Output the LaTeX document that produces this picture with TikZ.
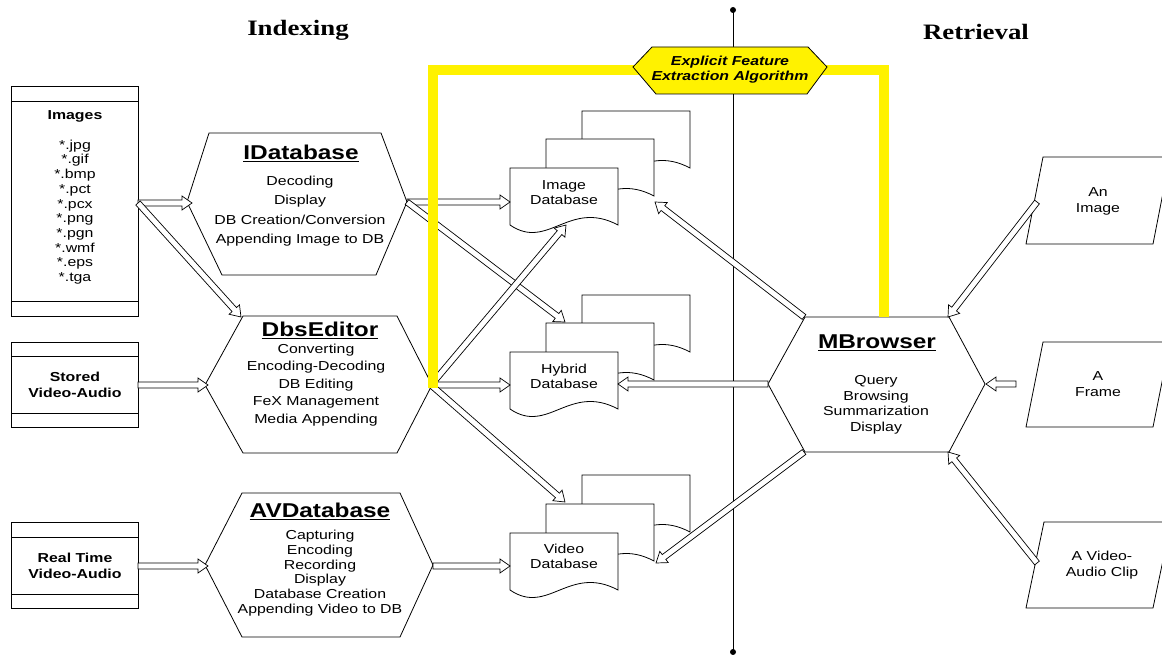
\documentclass[tikz,border=0pt]{standalone}
\usepackage{fontspec}
\setmainfont{Liberation Sans}[FakeStretch=1.22]
\newfontfamily\serifttl{Liberation Serif}[FakeStretch=1.22]
\usetikzlibrary{calc}
\tikzset{
  txt/.style={font=\fontsize{13}{14.7}\selectfont, align=center, inner sep=0pt},
  ttl/.style={font=\fontsize{20}{22}\selectfont\bfseries, inner sep=0pt},
  hdr/.style={font=\serifttl\fontsize{22}{24}\selectfont\bfseries, inner sep=0pt},
  shp/.style={draw=black, line width=0.8pt, fill=white},
  barrow/.style={draw=black, line width=0.7pt, fill=white, line join=miter},
}
\newcommand\barr[2]{%
  \path (#1) coordinate (ba-s) (#2) coordinate (ba-e);
  \path ($(ba-e)!10pt!(ba-s)$) coordinate (ba-h);
  \draw[barrow] ($(ba-s)!3pt!90:(ba-e)$) -- ($(ba-h)!3pt!-90:(ba-s)$) -- ($(ba-h)!7pt!-90:(ba-s)$) -- (ba-e) -- ($(ba-h)!7pt!90:(ba-s)$) -- ($(ba-h)!3pt!90:(ba-s)$) -- ($(ba-s)!3pt!-90:(ba-e)$) -- cycle;}
\newcommand\docpage[2]{%
  \begin{scope}[shift={(#1,#2)}]
    \draw[shp] (0,0) -- (108,0) -- (108,57) .. controls (59,31) and (38,83) .. (0,57) -- cycle;
  \end{scope}}
\begin{document}
\begin{tikzpicture}[x=1pt,y=-1pt]
\clip (0,0) rectangle (1162,655);
\fill[white] (0,0) rectangle (1162,655);

% divider line
\draw[line width=0.8pt] (733,10) -- (733,652);
\fill (733,10) circle (3pt);
\fill (733,652) circle (3pt);

% headers
\node[hdr] (hidx) at (298,30) {Indexing};
\node[hdr] (hret) at (976,32) {Retrieval};

% source boxes
\draw[shp] (11,86) rectangle (138,316);
\draw[line width=0.8pt] (11,101) -- (138,101) (11,301) -- (138,301);
\draw[shp] (11,342) rectangle (138,427);
\draw[line width=0.8pt] (11,356) -- (138,356) (11,413) -- (138,413);
\draw[shp] (11,522) rectangle (138,608);
\draw[line width=0.8pt] (11,537) -- (138,537) (11,594) -- (138,594);

% hexagons
\draw[shp] (187,202) -- (209,133) -- (381,133) -- (407,202) -- (376,275) -- (222,275) -- cycle;
\draw[shp] (205,385) -- (243,316) -- (397,316) -- (432,385) -- (397,453) -- (243,453) -- cycle;
\draw[shp] (205,565) -- (242,493) -- (400,493) -- (433,565) -- (400,637) -- (242,637) -- cycle;
\draw[shp] (768,384) -- (805,317) -- (949,317) -- (985,384) -- (949,452) -- (805,452) -- cycle;

% document stacks
\docpage{582}{111}\docpage{546}{139}\docpage{510}{168}
\docpage{582}{295}\docpage{546}{323}\docpage{510}{352}
\docpage{582}{475}\docpage{546}{504}\docpage{510}{533}

% parallelograms
\draw[shp] (1043,157) -- (1170,157) -- (1153,244) -- (1026,244) -- cycle;
\draw[shp] (1043,342) -- (1170,342) -- (1153,427) -- (1026,427) -- cycle;
\draw[shp] (1044,522) -- (1171,522) -- (1153,608) -- (1026,608) -- cycle;

% connection points
\coordinate (img-out) at (138,203);
\coordinate (idb-l) at (192,203);
\coordinate (dbe-tl) at (241,317);
\coordinate (sto-out) at (138,385);
\coordinate (dbe-l) at (208,385);
\coordinate (rt-out) at (138,566);
\coordinate (avd-l) at (208,566);
\coordinate (idb-r) at (407,202);
\coordinate (imgdb-l) at (510,202);
\coordinate (hyb-mid) at (565,322);
\coordinate (dbe-r) at (431,385);
\coordinate (imgdb-b) at (566,225);
\coordinate (hyb-l) at (510,385);
\coordinate (vid-mid) at (565,502);
\coordinate (avd-r) at (433,566);
\coordinate (vid-l) at (510,566);
\coordinate (mb-tl) at (804,317);
\coordinate (imgdb-r) at (655,202);
\coordinate (mb-l) at (768,384);
\coordinate (hyb-r) at (618,384);
\coordinate (mb-bl) at (804,452);
\coordinate (vid-r) at (656,563);
\coordinate (aim-l) at (1037,202);
\coordinate (mb-tr) at (948,317);
\coordinate (afr-l) at (1016,384);
\coordinate (mb-r) at (986,384);
\coordinate (avc-l) at (1037,563);
\coordinate (mb-br) at (948,452);

% arrows
\barr{img-out}{idb-l}
\barr{img-out}{dbe-tl}
\barr{sto-out}{dbe-l}
\barr{rt-out}{avd-l}
\barr{idb-r}{imgdb-l}
\barr{idb-r}{hyb-mid}
\barr{dbe-r}{imgdb-b}
\barr{dbe-r}{hyb-l}
\barr{dbe-r}{vid-mid}
\barr{avd-r}{vid-l}
\barr{mb-tl}{imgdb-r}
\barr{mb-l}{hyb-r}
\barr{mb-bl}{vid-r}
\barr{aim-l}{mb-tr}
\barr{afr-l}{mb-r}
\barr{avc-l}{mb-br}

% yellow feature path
\draw[yellow, line width=10pt, line join=miter] (433,388) -- (433,70) -- (884,70) -- (884,317);
\draw[draw=black, line width=0.8pt, fill=yellow] (633,67) -- (652,47) -- (808,47) -- (827,67) -- (807,94) -- (656,94) -- cycle;
\node[txt, font=\fontsize{13}{15}\selectfont\bfseries\itshape] (fex) at (730,70) {Explicit Feature\\Extraction Algorithm};

% texts
\node[txt, font=\fontsize{13}{15}\selectfont\bfseries] (imgt) at (75,116) {Images};
\node[txt] (imgl) at (75,212) {*.jpg\\*.gif\\*.bmp\\*.pct\\*.pcx\\*.png\\*.pgn\\*.wmf\\*.eps\\*.tga};
\node[txt, font=\fontsize{13}{16.5}\selectfont\bfseries] (stot) at (75,385) {Stored\\Video-Audio};
\node[txt, font=\fontsize{13}{16.5}\selectfont\bfseries] (rtt) at (75,566) {Real Time\\Video-Audio};

\node[ttl] (idbt) at (301,153) {\underline{IDatabase}};
\node[txt, font=\fontsize{13}{19.5}\selectfont] (idbx) at (300,211) {Decoding\\Display\\DB Creation/Conversion\\Appending Image to DB};
\node[ttl] (dbet) at (320,330) {\underline{DbsEditor}};
\node[txt, font=\fontsize{13}{17.5}\selectfont] (dbex) at (316,385) {Converting\\Encoding-Decoding\\DB Editing\\FeX Management\\Media Appending};
\node[ttl] (avdt) at (320,511) {\underline{AVDatabase}};
\node[txt] (avdx) at (320,573) {Capturing\\Encoding\\Recording\\Display\\Database Creation\\Appending Video to DB};
\node[ttl] (mbt) at (877,343) {\underline{MBrowser}};
\node[txt, font=\fontsize{13}{15.5}\selectfont] (mbx) at (876,405) {Query\\Browsing\\Summarization\\Display};

\node[txt, font=\fontsize{13}{15}\selectfont] (imgdbt) at (564,193) {Image\\Database};
\node[txt, font=\fontsize{13}{15}\selectfont] (hybt) at (564,376) {Hybrid\\Database};
\node[txt, font=\fontsize{13}{15}\selectfont] (vidt) at (564,556) {Video\\Database};

\node[txt, font=\fontsize{13}{16}\selectfont] (aimt) at (1098,201) {An\\Image};
\node[txt, font=\fontsize{13}{16}\selectfont] (afrt) at (1098,384) {A\\Frame};
\node[txt, font=\fontsize{13}{16}\selectfont] (avct) at (1102,565) {A Video-\\Audio Clip};
\end{tikzpicture}
\end{document}
